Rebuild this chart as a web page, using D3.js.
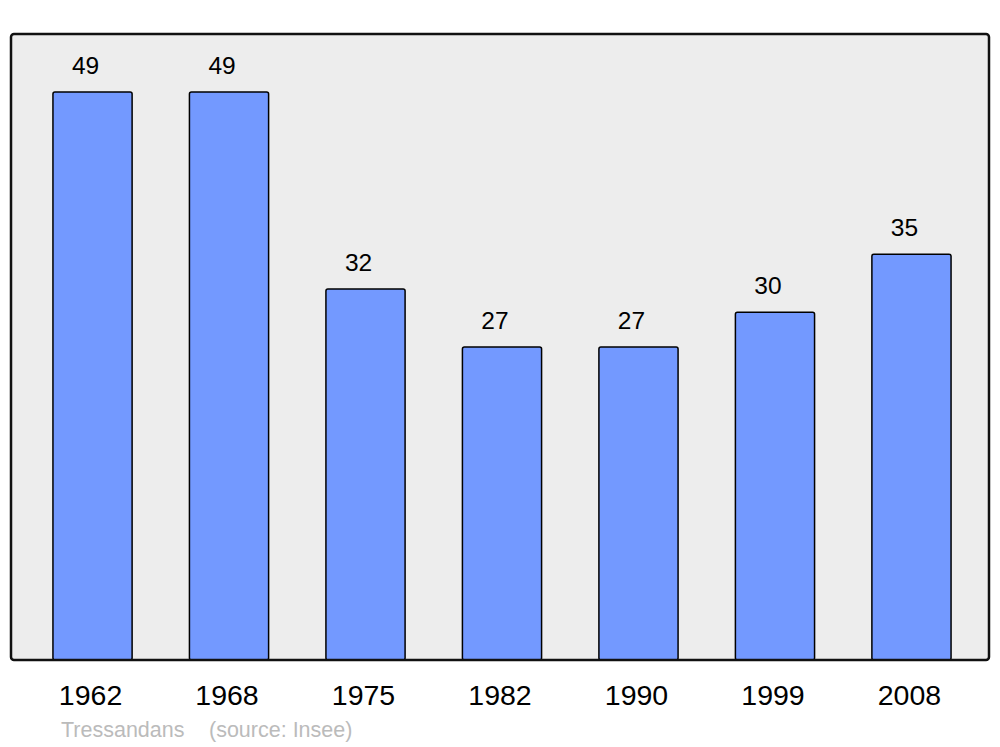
<!DOCTYPE html>
<html>
<head>
<meta charset="utf-8">
<script src="https://cdn.jsdelivr.net/npm/d3@7"></script>
<style>
  body { margin: 0; background: #fff; }
  text { font-family: "Liberation Sans", Arial, sans-serif; }
</style>
</head>
<body>
<svg id="chart" width="1000" height="747"></svg>
<script>
// Population by census year
const years = ["1962", "1968", "1975", "1982", "1990", "1999", "2008"];
const population = [49, 49, 32, 27, 27, 30, 35];
const commune = "Tressandans";
const source = "(source: Insee)";

const svg = d3.select("#chart");

const panel = { left: 11, top: 34, right: 989, bottom: 660 };

const x = d3.scaleBand()
  .domain(years)
  .range([12, 992])
  .paddingInner(0.42)
  .paddingOuter(0.3);

const y = d3.scaleLinear()
  .domain([0, 54])
  .range([panel.bottom, panel.top]);

// background panel
svg.append("rect")
  .attr("x", panel.left)
  .attr("y", panel.top)
  .attr("width", panel.right - panel.left)
  .attr("height", panel.bottom - panel.top)
  .attr("rx", 3)
  .attr("fill", "#ededed");

const data = years.map((year, i) => ({ year, value: population[i] }));

svg.append("g")
  .selectAll("rect")
  .data(data)
  .join("rect")
    .attr("x", d => x(d.year))
    .attr("y", d => y(d.value))
    .attr("width", x.bandwidth())
    .attr("height", d => y(0) - y(d.value))
    .attr("rx", 2)
    .attr("fill", "#7399ff")
    .attr("stroke", "#000")
    .attr("stroke-width", 1.5);

// value labels above bars
svg.append("g")
  .selectAll("text")
  .data(data)
  .join("text")
    .attr("x", d => x(d.year) + x.bandwidth() / 2 - 7)
    .attr("y", d => y(d.value) - 18)
    .attr("text-anchor", "middle")
    .attr("font-size", 24.5)
    .attr("fill", "#000")
    .text(d => d.value);

// panel border on top of bars
svg.append("rect")
  .attr("x", panel.left)
  .attr("y", panel.top)
  .attr("width", panel.right - panel.left)
  .attr("height", panel.bottom - panel.top)
  .attr("rx", 3)
  .attr("fill", "none")
  .attr("stroke", "#111")
  .attr("stroke-width", 2.5);

// year axis
const axis = svg.append("g")
  .attr("transform", `translate(0,${panel.bottom})`)
  .call(d3.axisBottom(x).tickSize(0).tickPadding(0));
axis.select(".domain").remove();
axis.selectAll("text")
  .attr("y", 45)
  .attr("dy", 0)
  .attr("dx", -2)
  .attr("font-size", 28.5)
  .attr("font-family", "Liberation Sans, Arial, sans-serif")
  .attr("fill", "#000");

// footer
svg.append("text")
  .attr("x", 61)
  .attr("y", 737)
  .attr("font-size", 21.5)
  .attr("fill", "#bbb")
  .text(commune);

svg.append("text")
  .attr("x", 209)
  .attr("y", 737)
  .attr("font-size", 21.5)
  .attr("fill", "#bbb")
  .text(source);
</script>
</body>
</html>
